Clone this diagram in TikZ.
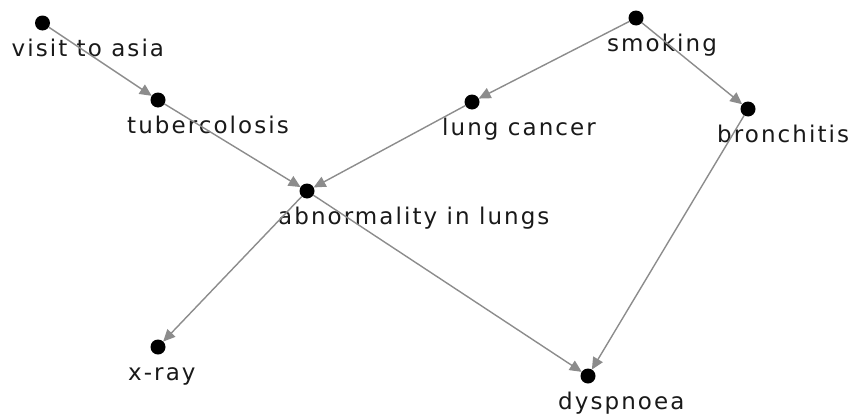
\documentclass[tikz,border=0pt]{standalone}
\usepackage{fontspec}
\setmainfont{DejaVu Sans}[LetterSpace=9]
\usepackage{tikz}
\usetikzlibrary{arrows.meta, positioning}

\begin{document}
\begin{tikzpicture}[
    x=1pt, y=-1pt,
    var/.style={circle, fill=black, inner sep=0pt, minimum size=15pt, outer sep=0pt},
    varlabel/.style={anchor=base west, inner sep=0pt, font=\fontsize{23}{27}\selectfont, text=black!90},
    link/.style={-{Triangle[length=12pt, width=11pt]}, line width=1.4pt, draw=black!45}
]
    \useasboundingbox (0,0) rectangle (853,415);

    % Variables
    \node[var] (asia) at (42.5,23) {};
    \node[var] (tub) at (158,100) {};
    \node[var] (abn) at (307,191) {};
    \node[var] (lung) at (472,102) {};
    \node[var] (smoke) at (636,18) {};
    \node[var] (bronch) at (748,109) {};
    \node[var] (xray) at (158,347) {};
    \node[var] (dysp) at (588,376) {};

    % Labels
    \node[varlabel] at ([xshift=-31pt, yshift=-33pt]asia.center) {visit to asia};
    \node[varlabel] at ([xshift=-31pt, yshift=-33pt]tub.center) {tubercolosis};
    \node[varlabel] at ([xshift=-29pt, yshift=-33pt]abn.center) {abnormality in lungs};
    \node[varlabel] at ([xshift=-30pt, yshift=-33pt]lung.center) {lung cancer};
    \node[varlabel] at ([xshift=-29pt, yshift=-33pt]smoke.center) {smoking};
    \node[varlabel] at ([xshift=-31pt, yshift=-33pt]bronch.center) {bronchitis};
    \node[varlabel] at ([xshift=-30pt, yshift=-33pt]xray.center) {x-ray};
    \node[varlabel] at ([xshift=-30pt, yshift=-33pt]dysp.center) {dyspnoea};

    % Arrows
    \draw[link] (asia) -- (tub);
    \draw[link] (tub) -- (abn);
    \draw[link] (lung) -- (abn);
    \draw[link] (smoke) -- (lung);
    \draw[link] (smoke) -- (bronch);
    \draw[link] (abn) -- (xray);
    \draw[link] (abn) -- (dysp);
    \draw[link] (bronch) -- (dysp);

\end{tikzpicture}
\end{document}
